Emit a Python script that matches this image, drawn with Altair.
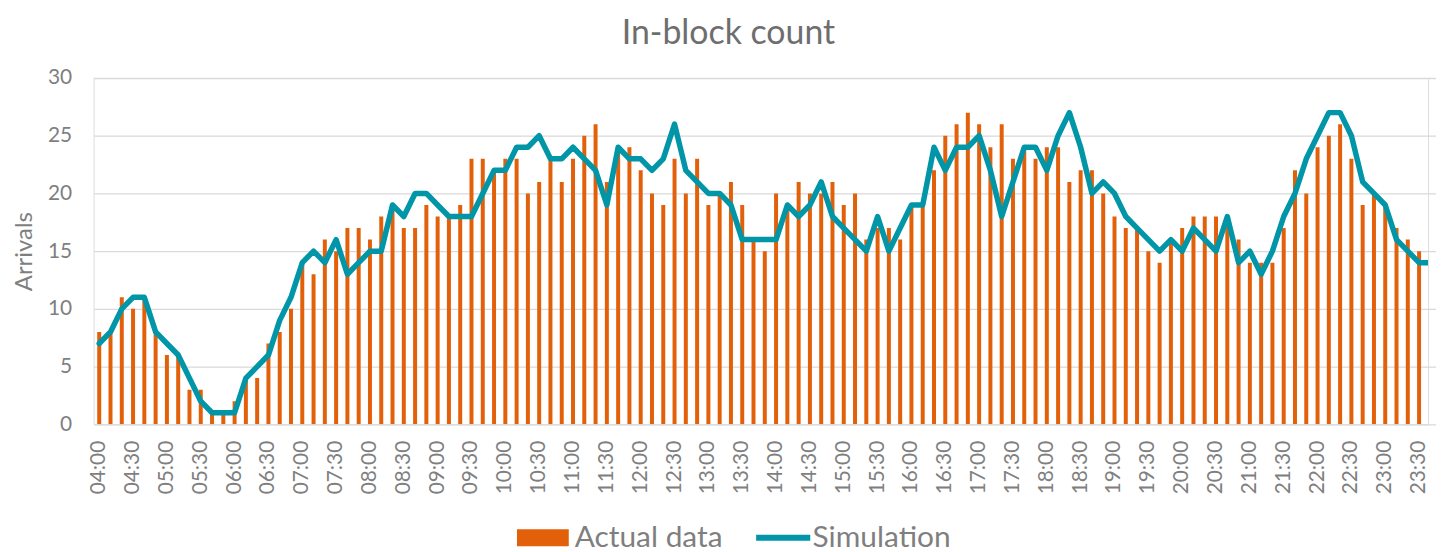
import altair as alt
import pandas as pd

times = [f"{h:02d}:{m:02d}" for h in range(4, 24) for m in range(0, 60, 10)][:119]
tick_labels = times[::3]

actual = [
    8, 8, 11, 10, 11, 8,      # 04
    6, 6, 3, 3, 1, 1,         # 05
    2, 4, 4, 7, 8, 10,        # 06
    14, 13, 16, 15, 17, 17,   # 07
    16, 18, 19, 17, 17, 19,   # 08
    18, 18, 19, 23, 23, 22,   # 09
    23, 23, 20, 21, 23, 21,   # 10
    23, 25, 26, 21, 24, 24,   # 11
    22, 20, 19, 23, 20, 23,   # 12
    19, 20, 21, 19, 16, 15,   # 13
    20, 19, 21, 20, 20, 21,   # 14
    19, 20, 16, 17, 17, 16,   # 15
    19, 19, 22, 25, 26, 27,   # 16
    26, 24, 26, 23, 24, 23,   # 17
    24, 24, 21, 22, 22, 20,   # 18
    18, 17, 17, 15, 14, 16,   # 19
    17, 18, 18, 18, 18, 16,   # 20
    14, 14, 14, 17, 22, 20,   # 21
    24, 25, 26, 23, 19, 20,   # 22
    19, 17, 16, 15, 13,       # 23
]

simulation = [
    7, 8, 10, 11, 11, 8,      # 04
    7, 6, 4, 2, 1, 1,         # 05
    1, 4, 5, 6, 9, 11,        # 06
    14, 15, 14, 16, 13, 14,   # 07
    15, 15, 19, 18, 20, 20,   # 08
    19, 18, 18, 18, 20, 22,   # 09
    22, 24, 24, 25, 23, 23,   # 10
    24, 23, 22, 19, 24, 23,   # 11
    23, 22, 23, 26, 22, 21,   # 12
    20, 20, 19, 16, 16, 16,   # 13
    16, 19, 18, 19, 21, 18,   # 14
    17, 16, 15, 18, 15, 17,   # 15
    19, 19, 24, 22, 24, 24,   # 16
    25, 22, 18, 21, 24, 24,   # 17
    22, 25, 27, 24, 20, 21,   # 18
    20, 18, 17, 16, 15, 16,   # 19
    15, 17, 16, 15, 18, 14,   # 20
    15, 13, 15, 18, 20, 23,   # 21
    25, 27, 27, 25, 21, 20,   # 22
    19, 16, 15, 14, 14,       # 23
]

y_ticks = [0, 5, 10, 15, 20, 25, 30]

ORANGE = "#E2600A"
TEAL = "#0096A8"
GRID = "#D9D9D9"
TXT = "#7F7F7F"
FONT = "Lato"

df = pd.DataFrame({
    "time": times,
    "actual": actual,
    "simulation": simulation,
    "s1": "Actual data",
    "s2": "Simulation",
})

# The reference plot runs past the right edge of the picture: the band scale
# keeps the reference's step and the marks are clipped at the visible plot edge.
x_enc = alt.X(
    "time:O",
    sort=times,
    scale=alt.Scale(paddingInner=0, paddingOuter=0, range=[0, 1349]),
    axis=alt.Axis(
        values=tick_labels, labelAngle=-90, ticks=False, domain=False, grid=False,
        labelPadding=16, labelFontSize=21, labelColor=TXT, labelFont=FONT, title=None,
    ),
)

y_axis = alt.Axis(
    values=y_ticks, ticks=False, domain=False, grid=True, gridColor=GRID, gridWidth=1.3,
    labelPadding=22, labelFontSize=21, labelColor=TXT, labelFont=FONT,
    title="Arrivals", titleFontSize=24, titleColor=TXT, titleFont=FONT, titleFontWeight="normal",
    titleX=-69, titleY=174, titleAngle=270, titleAlign="center", titleBaseline="middle",
)

bars = alt.Chart(df).mark_bar(size=4, clip=True).encode(
    x=x_enc,
    y=alt.Y("actual:Q", scale=alt.Scale(domain=[0, 30], nice=False), axis=y_axis),
    fill=alt.Fill(
        "s1:N",
        scale=alt.Scale(domain=["Actual data"], range=[ORANGE]),
        legend=alt.Legend(
            orient="none", legendX=436.5, legendY=447, title=None, padding=0,
            symbolType="M-3.06,-1L3.06,-1L3.06,1L-3.06,1Z", symbolSize=289,
            symbolStrokeWidth=0, labelOffset=17,
            labelFontSize=30, labelColor=TXT, labelFont=FONT,
        ),
    ),
)

line = alt.Chart(df).mark_line(
    strokeWidth=5.5, strokeJoin="round", strokeCap="round", clip=True
).encode(
    x=x_enc,
    y=alt.Y("simulation:Q", title="Arrivals"),
    stroke=alt.Stroke(
        "s2:N",
        scale=alt.Scale(domain=["Simulation"], range=[TEAL]),
        legend=alt.Legend(
            orient="none", legendX=678, legendY=447, title=None, padding=0,
            symbolType="M-3.2,0L3.2,0", symbolSize=289,
            symbolStrokeWidth=6, labelOffset=14.5,
            labelFontSize=30, labelColor=TXT, labelFont=FONT,
        ),
    ),
)

chart = alt.layer(bars, line).properties(
    width=1341,
    height=348,
    padding={"left": 5, "top": 8, "right": 0, "bottom": 0},
    title=alt.TitleParams(
        "In-block count", fontSize=34, color="#6E6E6E", font=FONT, fontWeight="normal",
        anchor="middle", frame="bounds", offset=16, dx=4,
    ),
).configure_view(stroke=None).configure(background="white")

chart.save("out.html", embed_options={"renderer": "svg", "actions": False})
